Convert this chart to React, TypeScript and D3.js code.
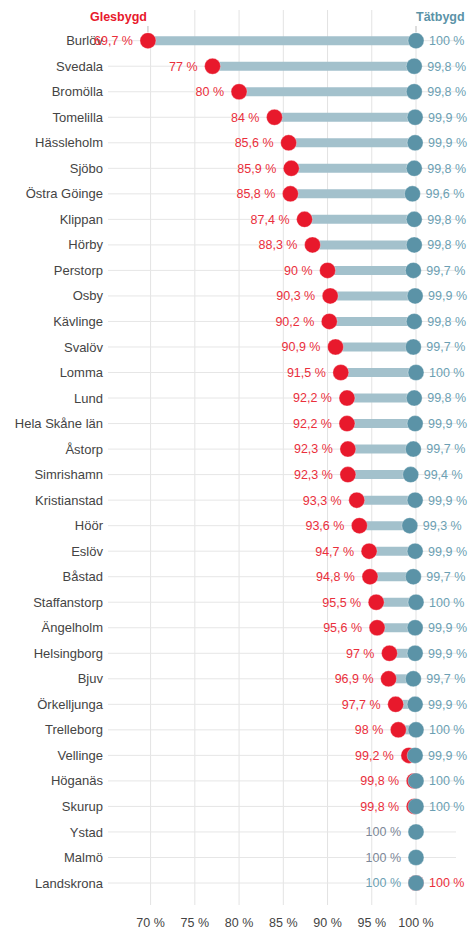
import React from "react";
import * as d3 from "d3";

const places = ["Burlöv","Svedala","Bromölla","Tomelilla","Hässleholm","Sjöbo","Östra Göinge","Klippan","Hörby","Perstorp","Osby","Kävlinge","Svalöv","Lomma","Lund","Hela Skåne län","Åstorp","Simrishamn","Kristianstad","Höör","Eslöv","Båstad","Staffanstorp","Ängelholm","Helsingborg","Bjuv","Örkelljunga","Trelleborg","Vellinge","Höganäs","Skurup","Ystad","Malmö","Landskrona"];
const glesbygd: (number | null)[] = [69.7,77,80,84,85.6,85.9,85.8,87.4,88.3,90,90.3,90.2,90.9,91.5,92.2,92.2,92.3,92.3,93.3,93.6,94.7,94.8,95.5,95.6,97,96.9,97.7,98,99.2,99.8,99.8,null,null,100];
const tatbygd: number[] = [100,99.8,99.8,99.9,99.9,99.8,99.6,99.8,99.8,99.7,99.9,99.8,99.7,100,99.8,99.9,99.7,99.4,99.9,99.3,99.9,99.7,100,99.9,99.9,99.7,99.9,100,99.9,100,100,100,100,100];
const xTicks = [70,75,80,85,90,95,100];
const seriesNames = ["Glesbygd","Tätbygd"];

const RED = "#e8192c";
const RED_TXT = "#ea2f3c";
const BLUE = "#5b93a7";
const BLUE_TXT = "#6c9fb3";
const BAR = "#a3c1cc";
const GRAY_TXT = "#7c8797";
const FONT = "'Liberation Sans', Arial, Helvetica, sans-serif";

const fmt = (v: number) => `${String(v).replace(".", ",")} %`;

export default function App() {
  const W = 471, H = 929;
  const x = d3.scaleLinear().domain([70, 100]).range([150.6, 416]);
  const y = d3.scalePoint<string>().domain(places).range([40.7, 883]);

  return (
    <svg width={W} height={H} style={{ position: "fixed", left: 0, top: 0, background: "#fff" }} fontFamily={FONT}>
      {/* vertical grid */}
      {xTicks.map((t) => (
        <line key={"g" + t} x1={x(t)} x2={x(t)} y1={t === 70 || t === 100 ? 33 : 10} y2={905} stroke="#e3e3e3" strokeWidth={1} />
      ))}
      {/* horizontal row lines */}
      {places.map((p) => (
        <line key={"h" + p} x1={108} x2={456} y1={y(p)!} y2={y(p)!} stroke="#e6e6e6" strokeWidth={1} />
      ))}
      {/* header labels */}
      <line x1={x(glesbygd[0]!)} x2={x(glesbygd[0]!)} y1={26} y2={32} stroke="#bbb" strokeWidth={1} />
      <line x1={x(tatbygd[0])} x2={x(tatbygd[0])} y1={26} y2={32} stroke="#bbb" strokeWidth={1} />
      <text x={x(glesbygd[0]!) - 1} y={21} textAnchor="end" fontSize={12.5} fontWeight="bold" fill={RED}>{seriesNames[0]}</text>
      <text x={x(tatbygd[0])} y={21} textAnchor="start" fontSize={12.5} fontWeight="bold" fill={BLUE}>{seriesNames[1]}</text>
      {/* rows */}
      {places.map((p, i) => {
        const cy = y(p)!;
        const g = glesbygd[i];
        const t = tatbygd[i];
        const xb = x(t);
        const xg = g == null ? null : x(g);
        let leftLabel: { text: string; color: string; x: number } ;
        let rightLabel: { text: string; color: string; x: number } | null;
        if (g == null) {
          leftLabel = { text: fmt(t), color: GRAY_TXT, x: xb - 15 };
          rightLabel = null;
        } else if (g >= t) {
          leftLabel = { text: fmt(t), color: BLUE_TXT, x: Math.min(xb, xg!) - 15 };
          rightLabel = { text: fmt(g), color: RED_TXT, x: Math.max(xb, xg!) + 13 };
        } else {
          leftLabel = { text: fmt(g), color: RED_TXT, x: xg! - 15 };
          rightLabel = { text: fmt(t), color: BLUE_TXT, x: xb + 13 };
        }
        return (
          <g key={p}>
            <text x={103} y={cy} dy="0.35em" textAnchor="end" fontSize={13} fill="#444">{p}</text>
            {xg != null && (
              <line x1={xg} x2={xb} y1={cy} y2={cy} stroke={BAR} strokeWidth={9} />
            )}
            {xg != null && <circle cx={xg} cy={cy} r={8} fill={RED} stroke="#fff" strokeOpacity={0.4} strokeWidth={0.8} />}
            <circle cx={xb} cy={cy} r={8} fill={BLUE} stroke="#fff" strokeOpacity={0.4} strokeWidth={0.8} />
            <text x={leftLabel.x} y={cy} dy="0.35em" textAnchor="end" fontSize={12.5} fill={leftLabel.color}>{leftLabel.text}</text>
            {rightLabel && (
              <text x={rightLabel.x} y={cy} dy="0.35em" textAnchor="start" fontSize={12.5} fill={rightLabel.color}>{rightLabel.text}</text>
            )}
          </g>
        );
      })}
      {/* x axis labels */}
      {xTicks.map((t) => (
        <text key={"t" + t} x={x(t)} y={923} dy="0.35em" textAnchor="middle" fontSize={12.5} fill="#444">{`${t} %`}</text>
      ))}
    </svg>
  );
}
